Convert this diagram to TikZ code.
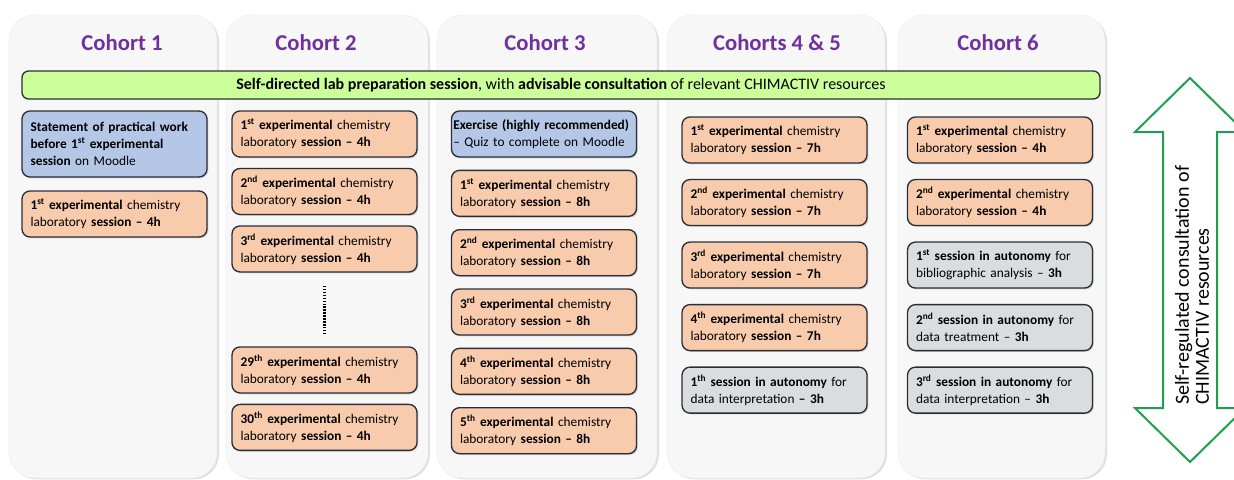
\documentclass[tikz,border=0pt]{standalone}
\usepackage{fontspec}
\setmainfont{Carlito}
\usepackage{tikz}
\usetikzlibrary{positioning, calc, shadows}
\usepackage{xcolor}
\definecolor{cPanel}{RGB}{247,247,247}
\definecolor{cHead}{RGB}{112,48,160}
\definecolor{cPrep}{RGB}{204,255,153}
\definecolor{cBlue}{RGB}{180,199,231}
\definecolor{cOrange}{RGB}{248,203,173}
\definecolor{cGray}{RGB}{218,220,224}
\definecolor{cEdge}{RGB}{45,45,55}
\definecolor{cArrow}{RGB}{30,160,80}
\newcommand{\labtext}[2]{\textbf{#1\textsuperscript{#2} experimental} chemistry}
\tikzset{
  panel/.style={rounded corners=19pt, fill=cPanel, draw=black!6,
                drop shadow={shadow xshift=1.5pt, shadow yshift=-1pt,
                             opacity=.25}},
  headnode/.style={font=\fontsize{17}{20}\selectfont\bfseries, text=cHead},
  basebox/.style={rectangle, rounded corners=6pt, draw=cEdge, line width=1pt,
                  align=left, font=\fontsize{10}{12.75}\selectfont,
                  minimum width=138.75pt, minimum height=34.5pt,
                  text width=126pt, inner xsep=6.3pt, outer sep=0pt,
                  drop shadow={shadow xshift=1pt, shadow yshift=-1pt,
                               opacity=.3}},
  labbox/.style={basebox, fill=cOrange},
  moodlebox/.style={basebox, fill=cBlue},
  autobox/.style={basebox, fill=cGray},
  prepnode/.style={rectangle, rounded corners=5pt, draw=cEdge, line width=1pt,
                   fill=cPrep, font=\fontsize{12}{14}\selectfont,
                   minimum width=808.5pt, minimum height=21pt},
  twoway/.style={draw=cArrow, line width=1.5pt, fill=white, line join=miter},
  dotline/.style={line width=1.6pt, dash pattern=on 1.1pt off 1.1pt}
}

\begin{document}
\begin{tikzpicture}[x=0.75pt, y=-0.75pt]
  \useasboundingbox (0,0) rectangle (1234,479);
  \clip (0,0) rectangle (1234,479);
  \fill[white] (0,0) rectangle (1234,479);

  % cohort panels
  \foreach \l/\r in {9/217, 226/428, 437/657, 667/885, 898/1105}
    \path[panel] (\l,15) rectangle (\r,478);

  \node (headA) [headnode] at (122,43) {Cohort 1};
  \node (headB) [headnode] at (316,43) {Cohort 2};
  \node (headC) [headnode] at (545,43) {Cohort 3};
  \node (headD) [headnode] at (777,43) {Cohorts 4 \& 5};
  \node (headE) [headnode] at (998,43) {Cohort 6};

  \node (prep) [prepnode] at (561,85)
    {\textbf{Self-directed lab preparation session}, with \textbf{advisable consultation} of relevant CHIMACTIV resources};

  % cohort 1
  \node (c1a) [moodlebox, anchor=north, minimum height=49.5pt] at (114.5,111)
    {\textbf{Statement of practical work}\\\textbf{before 1\textsuperscript{st} experimental}\\\textbf{session} on Moodle};
  \node (c1b) [labbox, below=10.5pt of c1a]
    {\labtext{1}{st}\\laboratory \textbf{session -- 4h}};

  % cohort 2
  \node (c2a) [labbox, anchor=north] at (324.5,111)
    {\labtext{1}{st}\\laboratory \textbf{session -- 4h}};
  \node (c2b) [labbox, below=8.6pt of c2a]
    {\labtext{2}{nd}\\laboratory \textbf{session -- 4h}};
  \node (c2c) [labbox, below=8.6pt of c2b]
    {\labtext{3}{rd}\\laboratory \textbf{session -- 4h}};
  \node (c2d) [labbox, below=56.25pt of c2c]
    {\labtext{29}{th}\\laboratory \textbf{session -- 4h}};
  \node (c2e) [labbox, below=8.6pt of c2d]
    {\labtext{30}{th}\\laboratory \textbf{session -- 4h}};
  \draw[dotline] ($(c2c.south)+(0,14)$) -- ($(c2d.north)+(0,-14)$);

  % cohort 3
  \node (c3a) [moodlebox, anchor=north, text width=136pt, inner xsep=1.4pt] at (544,111)
    {\textbf{Exercise (highly recommended)}\\-- Quiz to complete on Moodle};
  \node (c3b) [labbox, below=10pt of c3a]
    {\labtext{1}{st}\\laboratory \textbf{session -- 8h}};
  \node (c3c) [labbox, below=10pt of c3b]
    {\labtext{2}{nd}\\laboratory \textbf{session -- 8h}};
  \node (c3d) [labbox, below=10pt of c3c]
    {\labtext{3}{rd}\\laboratory \textbf{session -- 8h}};
  \node (c3e) [labbox, below=10pt of c3d]
    {\labtext{4}{th}\\laboratory \textbf{session -- 8h}};
  \node (c3f) [labbox, below=10pt of c3e]
    {\labtext{5}{th}\\laboratory \textbf{session -- 8h}};

  % cohorts 4 & 5
  \node (c4a) [labbox, anchor=north] at (774.5,117)
    {\labtext{1}{st}\\laboratory \textbf{session -- 7h}};
  \node (c4b) [labbox, below=12.4pt of c4a]
    {\labtext{2}{nd}\\laboratory \textbf{session -- 7h}};
  \node (c4c) [labbox, below=12.4pt of c4b]
    {\labtext{3}{rd}\\laboratory \textbf{session -- 7h}};
  \node (c4d) [labbox, below=12.4pt of c4c]
    {\labtext{4}{th}\\laboratory \textbf{session -- 7h}};
  \node (c4e) [autobox, below=12.4pt of c4d]
    {\textbf{1\textsuperscript{th} session in autonomy} for\\data interpretation \textbf{-- 3h}};

  % cohort 6
  \node (c6a) [labbox, anchor=north] at (1000,117)
    {\labtext{1}{st}\\laboratory \textbf{session -- 4h}};
  \node (c6b) [labbox, below=12.4pt of c6a]
    {\labtext{2}{nd}\\laboratory \textbf{session -- 4h}};
  \node (c6c) [autobox, below=12.4pt of c6b]
    {\textbf{1\textsuperscript{st} session in autonomy} for\\bibliographic analysis -- \textbf{3h}};
  \node (c6d) [autobox, below=12.4pt of c6c]
    {\textbf{2\textsuperscript{nd} session in autonomy} for\\data treatment -- \textbf{3h}};
  \node (c6e) [autobox, below=12.4pt of c6d]
    {\textbf{3\textsuperscript{rd} session in autonomy} for\\data interpretation -- \textbf{3h}};

  % self-regulated consultation
  \draw[twoway] (1190,78) -- (1245,132) -- (1217,132) -- (1217,408)
    -- (1245,408) -- (1190,462) -- (1135,408) -- (1163,408)
    -- (1163,132) -- (1135,132) -- cycle;
  \node (selfreg) [rotate=90, anchor=west, align=left, inner sep=0pt,
                   font=\fontsize{15}{15}\selectfont] at (1192,405)
    {Self-regulated consultation of\\CHIMACTIV resources};
\end{tikzpicture}
\end{document}
